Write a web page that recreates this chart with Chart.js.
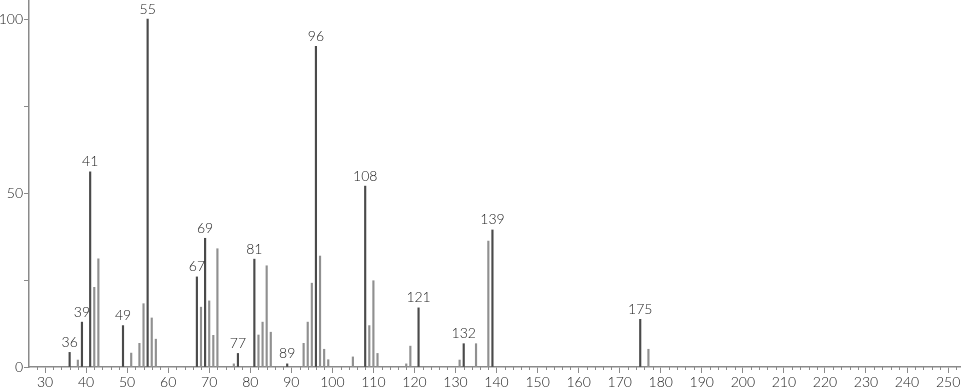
<!DOCTYPE html>
<html>
<head>
<meta charset="utf-8">
<script src="https://cdn.jsdelivr.net/npm/chart.js@4"></script>
<style>
html,body{margin:0;padding:0;background:#fff;}
#wrap{width:966px;height:389px;position:relative;}
</style>
</head>
<body>
<div id="wrap"><canvas id="c" width="966" height="389"></canvas></div>
<script>
const mz = [36,38,39,41,42,43,49,51,53,54,55,56,57,67,68,69,70,71,72,76,77,81,82,83,84,85,89,93,94,95,96,97,98,99,105,108,109,110,111,118,119,121,131,132,135,138,139,175,177];
const intensity = [4.2,2.0,12.9,56.1,22.9,31.1,11.9,4.0,6.8,18.2,100,14.1,8.0,25.9,17.2,37.0,19.0,9.1,34.0,0.9,3.9,31.0,9.2,12.9,29.1,10.0,0.9,6.8,12.9,24.1,92.2,31.9,5.1,2.1,2.9,52.0,11.9,24.8,3.9,0.9,6.0,17.0,2.0,6.7,6.7,36.2,39.4,13.7,5.1];
const labeledPeaks = [36,39,41,49,55,67,69,77,81,89,96,108,121,132,139,175];
const yTickLabels = [0,50,100];

const FONT = "Lato, 'DejaVu Sans', sans-serif";
const points = mz.map((m,i)=>({x:m,y:intensity[i]}));
const colors = mz.map(m=>labeledPeaks.includes(m) ? '#4a4a4a' : '#909090');

const peakLabels = {
  id:'peakLabels',
  afterDatasetsDraw(chart){
    const ctx = chart.ctx;
    const meta = chart.getDatasetMeta(0);
    ctx.save();
    ctx.font = "300 14px " + FONT;
    ctx.fillStyle = '#222';
    ctx.textAlign = 'center';
    ctx.textBaseline = 'bottom';
    mz.forEach((m,i)=>{
      if(!labeledPeaks.includes(m)) return;
      const el = meta.data[i];
      ctx.fillText(String(m), el.x, el.y - 3);
    });
    ctx.restore();
  }
};

const minorTicks = {
  id:'minorTicks',
  afterDraw(chart){
    const xs = chart.scales.x;
    const ctx = chart.ctx;
    const b = chart.chartArea.bottom;
    ctx.save();
    ctx.strokeStyle = '#8a8a8a';
    ctx.lineWidth = 1;
    for(let v=Math.ceil(xs.min/2)*2; v<=xs.max; v+=2){
      if(v%10===0) continue;
      const px = Math.round(xs.getPixelForValue(v))+0.5;
      ctx.beginPath();
      ctx.moveTo(px,b);
      ctx.lineTo(px,b+3);
      ctx.stroke();
    }
    ctx.restore();
  }
};

new Chart(document.getElementById('c'),{
  type:'bar',
  data:{datasets:[{data:points,backgroundColor:colors,borderWidth:0,barThickness:1.5}]},
  plugins:[peakLabels,minorTicks],
  options:{
    responsive:false,
    animation:false,
    layout:{padding:{left:0,right:6,top:0,bottom:0}},
    plugins:{legend:{display:false},tooltip:{enabled:false}},
    scales:{
      x:{
        type:'linear',
        offset:false,
        min:26.1, max:252.9,
        afterFit(s){ s.height = 22; s.paddingLeft = 0; s.paddingRight = 0; },
        ticks:{stepSize:10, includeBounds:false, autoSkip:false, maxRotation:0,
          font:{family:FONT,size:14,weight:300}, color:'#222', padding:1},
        grid:{drawOnChartArea:false, offset:false, tickLength:6, color:'#8a8a8a'},
        border:{color:'#8a8a8a', width:1.5}
      },
      y:{
        min:0, max:105.5,
        afterFit(s){ s.width = 29; s.paddingTop = 0; s.paddingBottom = 0; },
        ticks:{stepSize:25, includeBounds:false,
          callback:(v)=>yTickLabels.includes(v)?String(v):'',
          font:{family:FONT,size:14,weight:300}, color:'#222', padding:1},
        grid:{drawOnChartArea:false, tickLength:5, color:'#8a8a8a'},
        border:{color:'#8a8a8a', width:1.5}
      }
    }
  }
});
</script>
</body>
</html>
